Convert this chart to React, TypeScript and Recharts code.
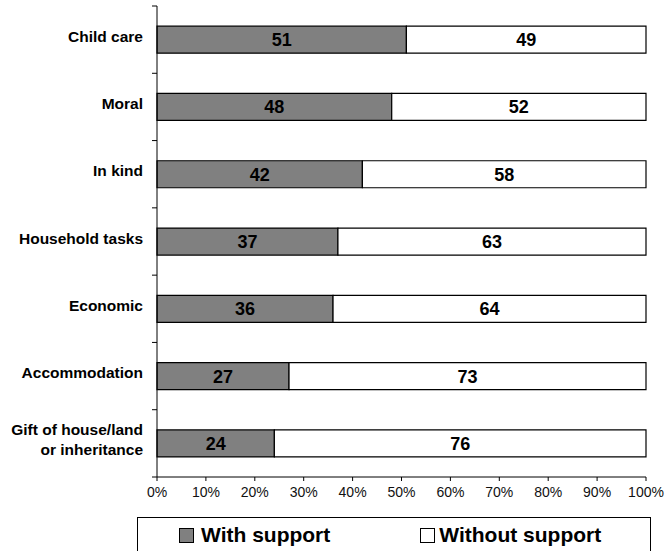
import { BarChart, Bar, XAxis, YAxis, LabelList } from 'recharts';

const categories = [
  'Child care',
  'Moral',
  'In kind',
  'Household tasks',
  'Economic',
  'Accommodation',
  'Gift of house/land\nor inheritance',
];
const withSupport = [51, 48, 42, 37, 36, 27, 24];
const withoutSupport = [49, 52, 58, 63, 64, 73, 76];
const xTicks = [0, 10, 20, 30, 40, 50, 60, 70, 80, 90, 100];
const series = [
  { key: 'with', name: 'With support', fill: '#808080' },
  { key: 'without', name: 'Without support', fill: '#ffffff' },
];

const W = 667;
const H = 551;
const MARGIN = { top: 6, right: 21, bottom: 44, left: 0 };
const Y_AXIS_W = 157;
const X_AXIS_H = 30;
const FONT = '"Liberation Sans", Arial, Helvetica, sans-serif';

const data = categories.map((name, i) => ({
  name,
  with: withSupport[i],
  without: withoutSupport[i],
}));

const bandSize = (H - MARGIN.top - MARGIN.bottom - X_AXIS_H) / categories.length;

// category label plus a tick mark on the band boundary (Excel style)
const CategoryTick = (props: any) => {
  const { y, payload, index } = props;
  const lines: string[] = String(payload.value).split('\n');
  const axisX = Y_AXIS_W;
  const lineH = 20;
  const top = y - bandSize / 2;
  const bottom = y + bandSize / 2;
  return (
    <g>
      <line x1={axisX - 5} x2={axisX} y1={top} y2={top} stroke="#000" strokeWidth={1} />
      {index === categories.length - 1 && (
        <line x1={axisX - 5} x2={axisX} y1={bottom} y2={bottom} stroke="#000" strokeWidth={1} />
      )}
      <text
        x={axisX - 14}
        y={y - ((lines.length - 1) * lineH) / 2 - 4}
        textAnchor="end"
        dominantBaseline="central"
        style={{ fontFamily: FONT, fontSize: 15.5, fontWeight: 700, fill: '#000' }}
      >
        {lines.map((ln, i) => (
          <tspan key={i} x={axisX - 14} dy={i === 0 ? 0 : lineH}>
            {ln}
          </tspan>
        ))}
      </text>
    </g>
  );
};

function LegendBox() {
  return (
    <div
      style={{
        position: 'absolute',
        left: 137,
        top: 517,
        width: 514,
        height: 44,
        border: '1px solid #000',
        display: 'flex',
        alignItems: 'flex-start',
        paddingLeft: 41,
        boxSizing: 'border-box',
        fontFamily: FONT,
        fontWeight: 700,
        fontSize: 21,
        color: '#000',
      }}
    >
      {series.map((s, i) => (
        <div
          key={s.key}
          style={{ display: 'flex', alignItems: 'center', marginTop: 5, marginLeft: i === 0 ? 0 : 90 }}
        >
          <span
            style={{
              display: 'inline-block',
              width: 13,
              height: 13,
              background: s.fill,
              border: '1px solid #000',
              marginRight: i === 0 ? 7 : 4,
            }}
          />
          <span>{s.name}</span>
        </div>
      ))}
    </div>
  );
}

export default function App() {
  return (
    <div style={{ position: 'absolute', left: 0, top: 0, width: W, height: H, background: '#fff' }}>
      <BarChart width={W} height={H} data={data} layout="vertical" margin={MARGIN} barCategoryGap="30%">
        <XAxis
          type="number"
          domain={[0, 100]}
          ticks={xTicks}
          interval={0}
          height={X_AXIS_H}
          tickFormatter={(v: number) => `${v}%`}
          tickSize={4}
          tickMargin={6}
          stroke="#000"
          tick={{ fontFamily: FONT, fontSize: 14, fill: '#111' }}
        />
        <YAxis
          type="category"
          dataKey="name"
          width={Y_AXIS_W}
          interval={0}
          tickLine={false}
          stroke="#000"
          tick={<CategoryTick />}
        />
        {series.map((s) => (
          <Bar
            key={s.key}
            dataKey={s.key}
            name={s.name}
            stackId="a"
            fill={s.fill}
            stroke="#000"
            strokeWidth={1.2}
            isAnimationActive={false}
          >
            <LabelList
              dataKey={s.key}
              position="center"
              style={{ fontFamily: FONT, fontSize: 18, fontWeight: 700, fill: '#000' }}
            />
          </Bar>
        ))}
      </BarChart>
      <LegendBox />
    </div>
  );
}
